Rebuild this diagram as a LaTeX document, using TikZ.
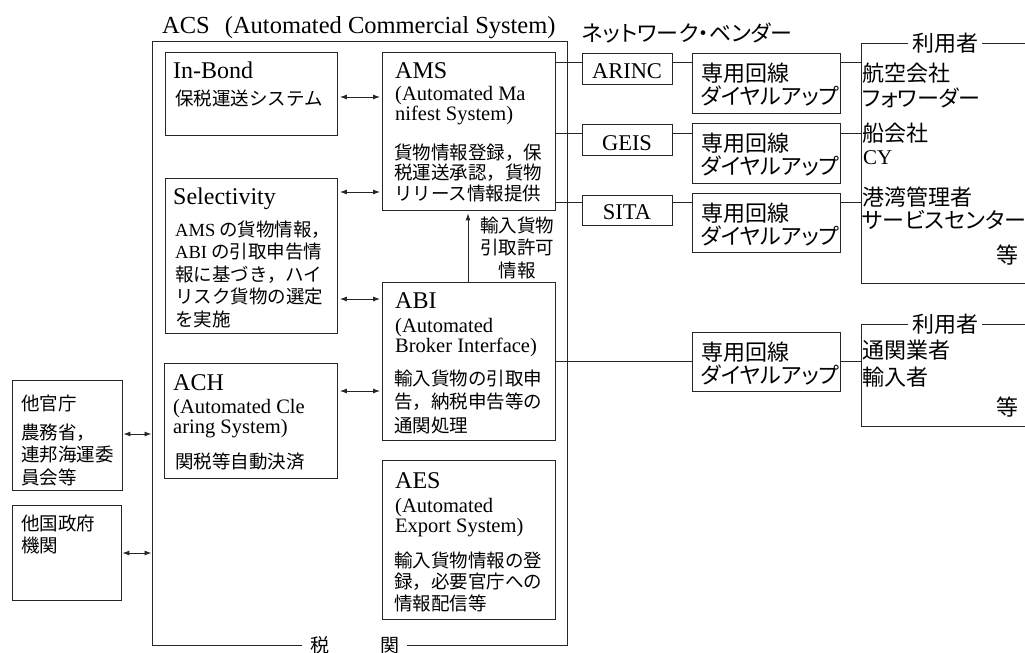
\documentclass[tikz,border=0pt]{standalone}
\usepackage{fontspec}
\setmainfont{Liberation Serif}
\newfontfamily\jp{Noto Sans CJK JP}
\newfontfamily\jpp[RawFeature=+palt]{Noto Sans CJK JP}
\usetikzlibrary{arrows.meta}
\newcommand{\ttlf}{\fontsize{24.5pt}{28pt}\selectfont}
\newcommand{\hdf}{\fontsize{24pt}{28pt}\selectfont}
\newcommand{\subf}{\fontsize{20.5pt}{20pt}\selectfont}
\newcommand{\vnf}{\fontsize{22.5pt}{24pt}\selectfont}
\newcommand{\jpf}[1]{\jp\fontsize{18.5pt}{#1pt}\selectfont}
\newcommand{\rtf}[1]{\jpp\fontsize{22pt}{#1pt}\selectfont}
\newcommand{\st}{\rule{0pt}{22pt}}
\colorlet{lc}{black!85}
\tikzset{
  bx/.style={draw=lc, line width=0.9pt, anchor=north west, inner sep=0pt},
  tx/.style={anchor=north west, inner sep=0pt, align=left},
  tl/.style={anchor=base west, inner sep=0pt},
  jl/.style={anchor=west, inner sep=0pt},
  ln/.style={draw=lc, line width=0.9pt},
  dbl/.style={ln, {Latex[length=7pt,width=5pt]}-{Latex[length=7pt,width=5pt]}, shorten <=2pt, shorten >=2pt},
  dbo/.style={ln, {Latex[length=7pt,width=5pt]}-{Latex[length=7pt,width=5pt]}, shorten <=0.5pt, shorten >=0.5pt},
  arr/.style={ln, -{Latex[length=7pt,width=5pt]}, shorten >=2.5pt},
  gap/.style={fill=white, inner ysep=0pt}
}
\begin{document}
\begin{tikzpicture}[x=1pt,y=-1pt]
\useasboundingbox (0,0) rectangle (1025,653);

% ---- ACS frame
\node[tl, font=\ttlf] (title) at (162,33) {ACS\hspace{15pt}(Automated Commercial System)};
\node[bx, minimum width=415pt, minimum height=604pt] (acs) at (152,41) {};
\node[gap, inner xsep=8pt, font={\jpf{20}\fontsize{19pt}{20pt}\selectfont}] (zeikan) at (354.5,645) {税\hspace{51pt}関};

% ---- In-Bond
\node[bx, minimum width=172pt, minimum height=83pt] (inbond) at (165,52) {};
\node[tl, font=\hdf] (inbondH) at (173,78) {In-Bond};
\node[jl, font={\jpf{20}}] (inbondT) at (175,98) {保税運送システム};

% ---- AMS
\node[bx, minimum width=173pt, minimum height=158pt] (ams) at (382,52) {};
\node[tl, font=\hdf] (amsH) at (395,78) {AMS};
\node[tx, font=\subf] (amsS) at (395,78) {\st(Automated Ma\\nifest System)};
\node[tx, font={\jpf{20.5}}] (amsT) at (394,137) {\st 貨物情報登録，保\\税運送承認，貨物\\リリース情報提供};

% ---- Selectivity
\node[bx, minimum width=172pt, minimum height=155pt] (sel) at (165,178) {};
\node[tl, font=\hdf] (selH) at (173,204) {Selectivity};
\node[tx, font={\jpf{22.5}}] (selT) at (175,214) {\st{\rmfamily AMS} の貨物情報，\\{\rmfamily ABI} の引取申告情\\報に基づき，ハイ\\リスク貨物の選定\\を実施};

% ---- ABI
\node[bx, minimum width=173pt, minimum height=158pt] (abi) at (382,282) {};
\node[tl, font=\hdf] (abiH) at (395,308) {ABI};
\node[tx, font=\subf] (abiS) at (395,310) {\st(Automated\\Broker Interface)};
\node[tx, font={\jpf{23.5}}] (abiT) at (394,363) {\st 輸入貨物の引取申\\告，納税申告等の\\通関処理};

% ---- ACH
\node[bx, minimum width=173pt, minimum height=115pt] (ach) at (164,363) {};
\node[tl, font=\hdf] (achH) at (173,390) {ACH};
\node[tx, font=\subf] (achS) at (173,391) {\st(Automated Cle\\aring System)};
\node[jl, font={\jpf{20}}] (achT) at (175,462) {関税等自動決済};

% ---- AES
\node[bx, minimum width=173pt, minimum height=159pt] (aes) at (382,460) {};
\node[tl, font=\hdf] (aesH) at (395,488) {AES};
\node[tx, font=\subf] (aesS) at (395,490) {\st(Automated\\Export System)};
\node[tx, font={\jpf{21.5}}] (aesT) at (394,545) {\st 輸入貨物情報の登\\録，必要官庁への\\情報配信等};

% ---- other agencies
\node[bx, minimum width=110pt, minimum height=110pt] (tak) at (12,380) {};
\node[jl, font={\jpf{20}}] (takH) at (21,403) {他官庁};
\node[tx, font={\jpf{22.5}}] (takT) at (21,417) {\st 農務省，\\連邦海運委\\員会等};
\node[bx, minimum width=109pt, minimum height=95pt] (tkk) at (12,505) {};
\node[tx, font={\jpf{22}}] (tkkT) at (21,508) {\st 他国政府\\機関};

% ---- network vendors
\node[tl, font={\rtf{24}}] (nv) at (582,41) {ネットワーク・ベンダー};
\node[bx, minimum width=90pt, minimum height=31pt] (arinc) at (582,53) {};
\node[anchor=base, inner sep=0pt, font=\vnf] (arincT) at (627,78) {ARINC};
\node[bx, minimum width=90pt, minimum height=31pt] (geis) at (582,124) {};
\node[anchor=base, inner sep=0pt, font=\vnf] (geisT) at (627,150) {GEIS};
\node[bx, minimum width=90pt, minimum height=30pt] (sita) at (582,195) {};
\node[anchor=base, inner sep=0pt, font=\vnf] (sitaT) at (627,219) {SITA};

% ---- dedicated line boxes
\node[bx, minimum width=148pt, minimum height=60pt] (d1) at (692,53) {};
\node[tx, font={\rtf{23}}] (d1T) at (701,59) {\st 専用回線\\ダイヤルアップ};
\node[bx, minimum width=148pt, minimum height=60pt] (d2) at (692,123) {};
\node[tx, font={\rtf{23}}] (d2T) at (701,129) {\st 専用回線\\ダイヤルアップ};
\node[bx, minimum width=148pt, minimum height=59pt] (d3) at (692,193) {};
\node[tx, font={\rtf{23}}] (d3T) at (701,199) {\st 専用回線\\ダイヤルアップ};
\node[bx, minimum width=148pt, minimum height=59pt] (d4) at (692,332) {};
\node[tx, font={\rtf{23}}] (d4T) at (701,338) {\st 専用回線\\ダイヤルアップ};

% ---- users
\node[bx, minimum width=190pt, minimum height=240pt] (u1) at (861,43) {};
\node[gap, inner xsep=4pt, font={\rtf{24}}] (u1L) at (945,43) {利用者};
\node[jl, font={\rtf{24}}] (u1a) at (862,73) {航空会社};
\node[jl, font={\rtf{24}}] (u1b) at (862,98) {フォワーダー};
\node[jl, font={\rtf{24}}] (u1c) at (862,133) {船会社};
\node[tl, font={\fontsize{21pt}{24pt}\selectfont}] (u1d) at (863,164) {CY};
\node[jl, font={\rtf{24}}] (u1e) at (862,197) {港湾管理者};
\node[jl, font={\rtf{24}}] (u1f) at (862,220) {サービスセンター};
\node[inner sep=0pt, font={\rtf{24}}] (u1g) at (1007,255) {等};

\node[bx, minimum width=190pt, minimum height=102pt] (u2) at (861,324) {};
\node[gap, inner xsep=4pt, font={\rtf{24}}] (u2L) at (945,324) {利用者};
\node[jl, font={\rtf{24}}] (u2a) at (862,350) {通関業者};
\node[jl, font={\rtf{24}}] (u2b) at (862,377) {輸入者};
\node[inner sep=0pt, font={\rtf{24}}] (u2c) at (1007,407) {等};

% ---- connectors inside ACS
\draw[dbl] (inbond.east |- 0,97) -- (ams.west |- 0,97);
\draw[dbl] (sel.east |- 0,192) -- (ams.west |- 0,192);
\draw[dbl] (sel.east |- 0,299) -- (abi.west |- 0,299);
\draw[dbl] (ach.east |- 0,391) -- (abi.west |- 0,391);
\draw[arr] (abi.north -| 468,0) -- (ams.south -| 468,0);
\node[anchor=north, inner sep=0pt, align=center, font={\jpf{22.5}}] (permit) at (517,210) {\st 輸入貨物\\引取許可\\情報};

% ---- other agencies to ACS
\draw[dbo] (tak.east |- 0,434) -- (acs.west |- 0,434);
\draw[dbo] (tkk.east |- 0,553) -- (acs.west |- 0,553);

% ---- lines to vendors and users
\draw[ln] (ams.east |- 0,62) -- (arinc.west |- 0,62);
\draw[ln] (arinc.east |- 0,62) -- (d1.west |- 0,62);
\draw[ln] (d1.east |- 0,62) -- (u1.west |- 0,62);
\draw[ln] (ams.east |- 0,133) -- (geis.west |- 0,133);
\draw[ln] (geis.east |- 0,133) -- (d2.west |- 0,133);
\draw[ln] (d2.east |- 0,133) -- (u1.west |- 0,133);
\draw[ln] (ams.east |- 0,202) -- (sita.west |- 0,202);
\draw[ln] (sita.east |- 0,202) -- (d3.west |- 0,202);
\draw[ln] (d3.east |- 0,202) -- (u1.west |- 0,202);
\draw[ln] (abi.east |- 0,361) -- (d4.west |- 0,361);
\draw[ln] (d4.east |- 0,361) -- (u2.west |- 0,361);
\end{tikzpicture}
\end{document}
